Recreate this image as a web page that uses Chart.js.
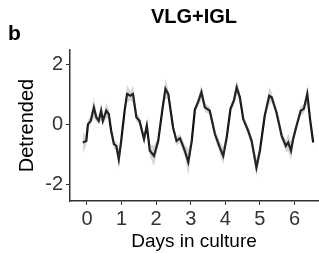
<!DOCTYPE html>
<html>
<head>
<meta charset="utf-8">
<script src="https://cdn.jsdelivr.net/npm/chart.js@4"></script>
<style>
  html, body { margin: 0; padding: 0; background: #fff; }
  #wrap { width: 319px; height: 253px; position: relative; }
</style>
</head>
<body>
<div id="wrap"><canvas id="rhythmChart"></canvas></div>
<script>
// values
const days = [-0.12, -0.02, 0.03, 0.11, 0.20, 0.27, 0.34, 0.41, 0.46, 0.56, 0.63, 0.70, 0.78, 0.85, 0.92, 0.99,
  1.09, 1.16, 1.26, 1.33, 1.43, 1.52, 1.65, 1.73, 1.82, 1.94, 2.06, 2.19, 2.27, 2.35, 2.49, 2.59, 2.69, 2.83, 2.93,
  3.03, 3.12, 3.22, 3.31, 3.41, 3.55, 3.70, 3.84, 3.94, 4.04, 4.15, 4.25, 4.33, 4.42, 4.52, 4.66, 4.76, 4.90,
  5.00, 5.14, 5.27, 5.34, 5.48, 5.63, 5.75, 5.82, 5.90, 5.96, 6.06, 6.18, 6.27, 6.37, 6.45, 6.54];
const detrended = [-0.59, -0.54, 0.02, 0.13, 0.58, 0.25, 0.13, 0.47, 0.13, 0.47, 0.36, -0.20, -0.65, -0.71, -1.15, -0.54,
  0.47, 1.03, 0.97, 1.03, 0.25, 0.13, -0.48, -0.03, -0.87, -1.04, -0.54, 0.58, 1.20, 1.03, -0.09, -0.54, -0.45, -0.87, -1.25,
  -0.54, 0.50, 0.78, 1.09, 0.58, 0.47, -0.31, -0.76, -1.04, -0.43, 0.53, 0.81, 1.25, 0.92, 0.19, -0.20, -0.54, -1.43,
  -0.87, 0.30, 0.97, 0.92, 0.41, -0.37, -0.71, -0.59, -0.87, -0.48, -0.03, 0.47, 0.53, 1.03, 0.19, -0.59];
// half width of the grey error band
const spread = [0.35, 0.15, 0.15, 0.12, 0.35, 0.15, 0.12, 0.3, 0.15, 0.25, 0.15, 0.12, 0.15, 0.15, 0.35, 0.15,
  0.12, 0.3, 0.15, 0.3, 0.15, 0.12, 0.15, 0.15, 0.2, 0.35, 0.15, 0.12, 0.35, 0.15, 0.12, 0.15, 0.15, 0.2, 0.45,
  0.15, 0.12, 0.15, 0.25, 0.15, 0.12, 0.15, 0.2, 0.3, 0.15, 0.12, 0.15, 0.25, 0.15, 0.12, 0.15, 0.15, 0.3,
  0.15, 0.12, 0.3, 0.15, 0.15, 0.15, 0.2, 0.3, 0.3, 0.15, 0.12, 0.15, 0.15, 0.3, 0.15, 0.15];
const xTicks = [0, 1, 2, 3, 4, 5, 6];
const yTicks = [-2, 0, 2];

const linePoints = days.map((d, i) => ({ x: d, y: detrended[i] }));
const upperPoints = days.map((d, i) => ({ x: d, y: detrended[i] + spread[i] }));
const lowerPoints = days.map((d, i) => ({ x: d, y: detrended[i] - spread[i] }));

const fontFamily = '"Liberation Sans", Arial, Helvetica, sans-serif';

// panel letter and title (title is centred over the plot panel, like ggplot)
const panelText = {
  id: 'panelText',
  afterDraw(chart) {
    const ctx = chart.ctx;
    const area = chart.chartArea;
    ctx.save();
    ctx.fillStyle = '#000';
    ctx.textBaseline = 'alphabetic';
    ctx.font = 'bold 21px ' + fontFamily;
    ctx.textAlign = 'left';
    ctx.fillText('b', 8, 40);
    ctx.font = 'bold 20px ' + fontFamily;
    ctx.textAlign = 'center';
    ctx.fillText('VLG+IGL', (area.left + area.right) / 2, 23);
    ctx.restore();
  }
};

new Chart(document.getElementById('rhythmChart'), {
  type: 'line',
  data: {
    datasets: [
      { data: upperPoints, borderWidth: 0, pointRadius: 0, fill: false, backgroundColor: 'rgba(0,0,0,0)' },
      { data: lowerPoints, borderWidth: 0, pointRadius: 0, fill: '-1', backgroundColor: 'rgba(120,120,120,0.3)' },
      { data: linePoints, borderColor: '#000', borderWidth: 2.2, pointRadius: 0, fill: false, tension: 0 }
    ]
  },
  options: {
    responsive: true,
    maintainAspectRatio: false,
    animation: false,
    layout: { padding: { left: 0, right: 1, top: 50, bottom: 0 } },
    plugins: {
      legend: { display: false },
      tooltip: { enabled: false },
      title: { display: false }
    },
    scales: {
      x: {
        type: 'linear',
        min: -0.49,
        max: 6.68,
        afterBuildTicks: s => { s.ticks = xTicks.map(v => ({ value: v })); },
        afterFit: s => { s.height = 52; },
        border: { display: true, color: '#333', width: 1.5 },
        grid: { drawOnChartArea: false, drawTicks: true, tickLength: 4, color: '#333' },
        ticks: { color: '#333', padding: 2, maxRotation: 0, font: { family: fontFamily, size: 20 } },
        title: { display: true, text: 'Days in culture', color: '#000', padding: { top: 0, bottom: 0 },
          font: { family: fontFamily, size: 19 } }
      },
      y: {
        min: -2.55,
        max: 2.5,
        afterBuildTicks: s => { s.ticks = yTicks.map(v => ({ value: v })); },
        afterFit: s => { s.width = 70; },
        border: { display: true, color: '#333', width: 1.5 },
        grid: { drawOnChartArea: false, drawTicks: true, tickLength: 4, color: '#333' },
        ticks: { color: '#333', padding: 3, font: { family: fontFamily, size: 20 } },
        title: { display: true, text: 'Detrended', color: '#000', padding: { top: 15, bottom: 0 },
          font: { family: fontFamily, size: 20 } }
      }
    }
  },
  plugins: [panelText]
});
</script>
</body>
</html>
